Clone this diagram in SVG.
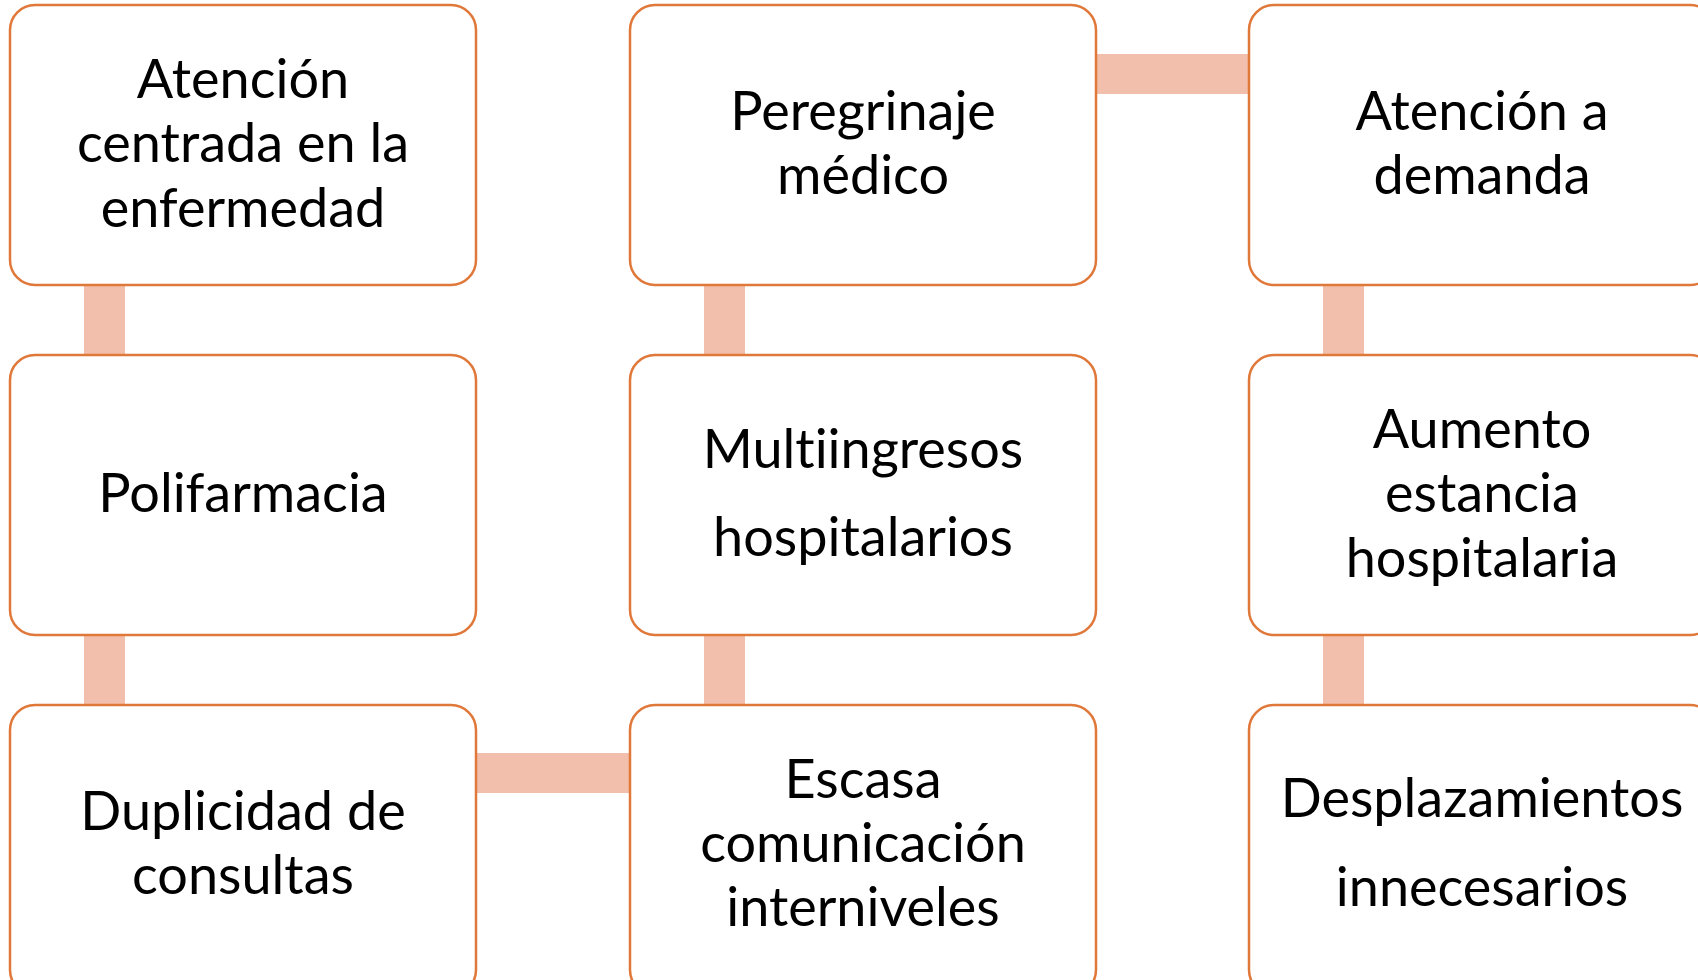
<svg xmlns="http://www.w3.org/2000/svg" width="1698" height="980" viewBox="0 0 1698 980">
<style>
.box{fill:#FFFFFF;stroke:#E0783A;stroke-width:2.5}
.con{fill:#F3BFAD}
.t{font-family:Lato,"Open Sans","Liberation Sans",sans-serif;font-size:54px;fill:#000000;text-anchor:middle;font-variant-ligatures:none;font-feature-settings:"liga" 0,"clig" 0}
</style>
<rect width="1698" height="980" fill="#FFFFFF"/>
<g id="connectors">
<rect class="con" x="84" y="270" width="41" height="100"/>
<rect class="con" x="84" y="620" width="41" height="100"/>
<rect class="con" x="704" y="270" width="41" height="100"/>
<rect class="con" x="704" y="620" width="41" height="100"/>
<rect class="con" x="1323" y="270" width="41" height="100"/>
<rect class="con" x="1323" y="620" width="41" height="100"/>
<rect class="con" x="1080" y="54" width="185" height="40"/>
<rect class="con" x="460" y="753" width="185" height="40"/>
</g>
<g id="n1">
<rect class="box" x="10" y="5" width="466" height="280" rx="25"/>
<text class="t" x="243" y="98">Atención</text>
<text class="t" x="243" y="162">centrada en la</text>
<text class="t" x="243" y="227">enfermedad</text>
</g>
<g id="n2">
<rect class="box" x="10" y="355" width="466" height="280" rx="25"/>
<text class="t" x="243" y="512">Polifarmacia</text>
</g>
<g id="n3">
<rect class="box" x="10" y="705" width="466" height="290" rx="25"/>
<text class="t" x="243" y="830">Duplicidad de</text>
<text class="t" x="243" y="894">consultas</text>
</g>
<g id="n4">
<rect class="box" x="630" y="5" width="466" height="280" rx="25"/>
<text class="t" x="863" y="130">Peregrinaje</text>
<text class="t" x="863" y="194">médico</text>
</g>
<g id="n5">
<rect class="box" x="630" y="355" width="466" height="280" rx="25"/>
<text class="t" x="863" y="468">Multiingresos</text>
<text class="t" x="863" y="556">hospitalarios</text>
</g>
<g id="n6">
<rect class="box" x="630" y="705" width="466" height="290" rx="25"/>
<text class="t" x="863" y="798">Escasa</text>
<text class="t" x="863" y="862">comunicación</text>
<text class="t" x="863" y="926">interniveles</text>
</g>
<g id="n7">
<rect class="box" x="1249" y="5" width="466" height="280" rx="25"/>
<text class="t" x="1482" y="130">Atención a</text>
<text class="t" x="1482" y="194">demanda</text>
</g>
<g id="n8">
<rect class="box" x="1249" y="355" width="466" height="280" rx="25"/>
<text class="t" x="1482" y="448">Aumento</text>
<text class="t" x="1482" y="512">estancia</text>
<text class="t" x="1482" y="577">hospitalaria</text>
</g>
<g id="n9">
<rect class="box" x="1249" y="705" width="466" height="290" rx="25"/>
<text class="t" x="1482" y="817">Desplazamientos</text>
<text class="t" x="1482" y="906">innecesarios</text>
</g>
</svg>
